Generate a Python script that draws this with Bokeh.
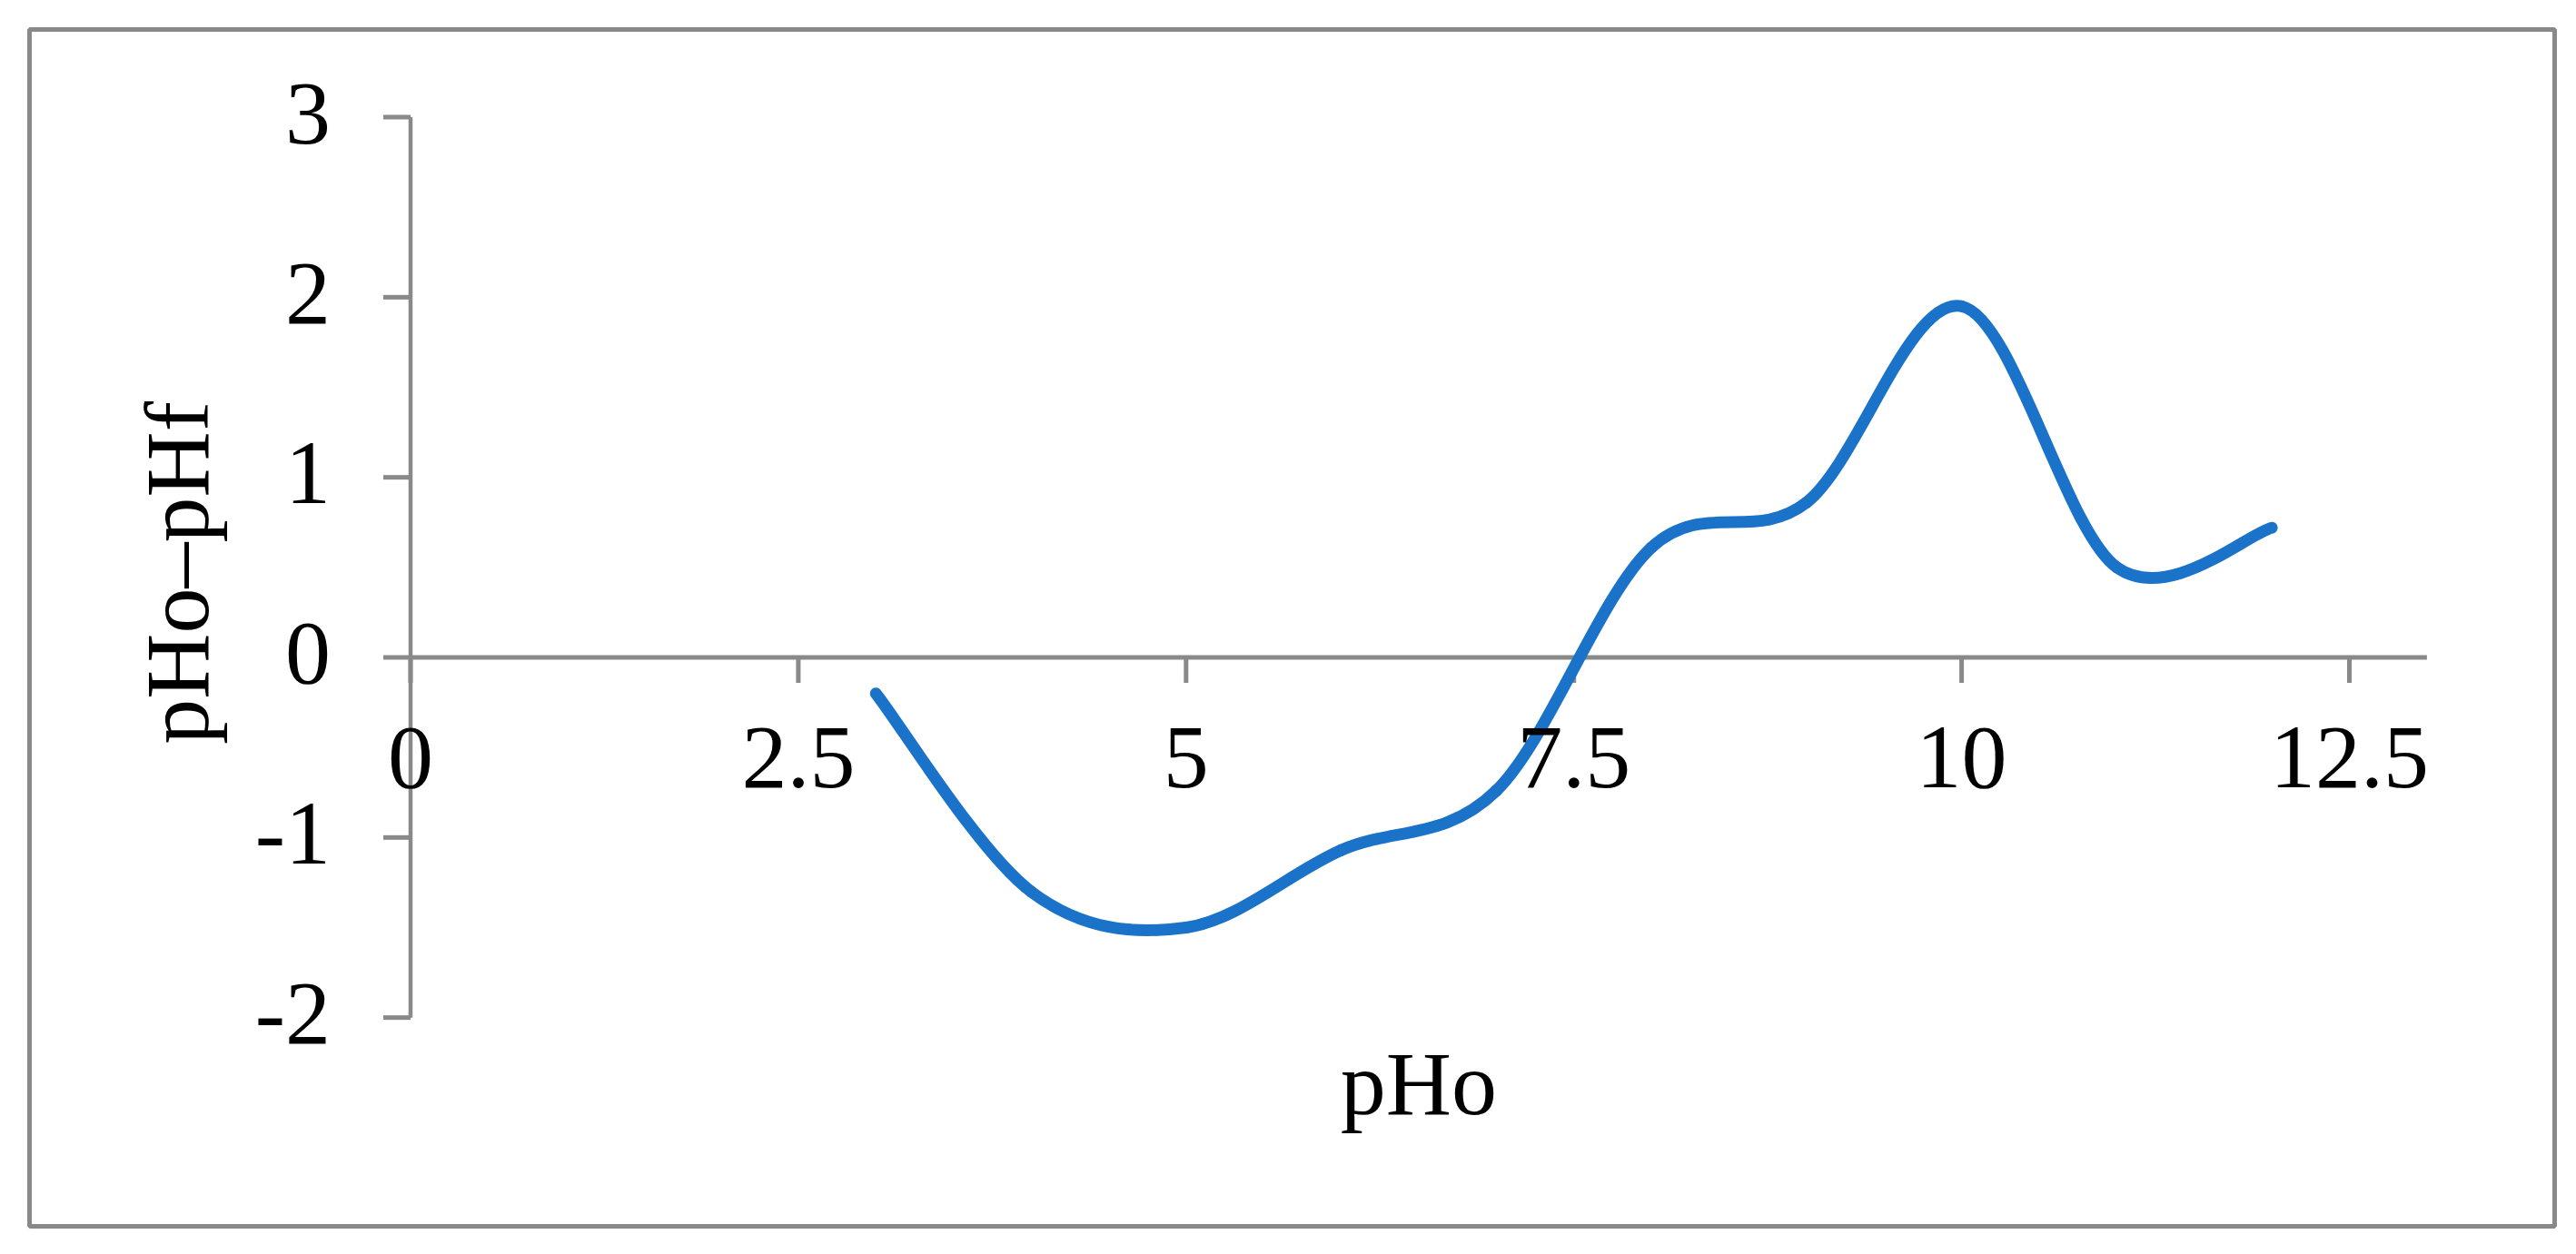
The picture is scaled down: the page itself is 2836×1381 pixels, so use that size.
import numpy as np
from bokeh.plotting import figure
from bokeh.models import Range1d
from bokeh.core.properties import value
from bokeh.embed import file_html
from bokeh.resources import INLINE

# ---- data ----
pHo = [3, 4, 5, 6, 7, 8, 9, 10, 11, 12]
pHo_minus_pHf = [-0.20, -1.30, -1.50, -1.07, -0.74, 0.61, 0.86, 1.95, 0.50, 0.72]

x_ticks = [0, 2.5, 5, 7.5, 10, 12.5]
x_tick_labels = ["0", "2.5", "5", "7.5", "10", "12.5"]
y_ticks = [-2, -1, 0, 1, 2, 3]
y_tick_labels = ["-2", "-1", "0", "1", "2", "3"]
x_axis_span = (0, 13)
y_axis_span = (-2, 3)

x_title = "pHo"
y_title = "pHo\u2013pHf"

# ---- smoothed line (Excel-style Bezier through the data points) ----
xs = np.array(pHo, dtype=float)
ys = np.array(pHo_minus_pHf, dtype=float)
xp = np.concatenate([[xs[0]], xs, [xs[-1]]])
yp = np.concatenate([[ys[0]], ys, [ys[-1]]])
n = len(xs)
x0 = xs[:-1]; y0 = ys[:-1]
x1 = xs[1:]; y1 = ys[1:]
cx0 = x0 + (xp[2:n + 1] - xp[0:n - 1]) / 6.0
cy0 = y0 + (yp[2:n + 1] - yp[0:n - 1]) / 6.0
cx1 = x1 - (xp[3:n + 2] - xp[1:n]) / 6.0
cy1 = y1 - (yp[3:n + 2] - yp[1:n]) / 6.0

GRAY = "#898989"
FONT = "Liberation Serif"

# layout: pixel scale of the plot area
PX_PER_X = 170.76
PX_PER_Y = 198.33
BASE_FIX = 35.0   # rendered baseline sits this many px lower than requested

p = figure(
    width=2828, height=1373,
    output_backend="svg", toolbar_location=None,
    x_range=Range1d(-2.4566, 13.8235), y_range=Range1d(-3.1589, 3.4866),
    min_border_left=32, min_border_top=32, min_border_right=16, min_border_bottom=23,
)
p.background_fill_color = "white"
p.border_fill_color = "white"
p.outline_line_color = GRAY
p.outline_line_width = 5
p.xgrid.visible = False
p.ygrid.visible = False
p.xaxis.visible = False
p.yaxis.visible = False

# axis rules and ticks (crossing at 0)
p.segment(x0=[x_axis_span[0]], y0=[0], x1=[x_axis_span[1]], y1=[0],
          line_color=GRAY, line_width=5)
p.segment(x0=[0], y0=[y_axis_span[0]], x1=[0], y1=[y_axis_span[1]],
          line_color=GRAY, line_width=4.5)
xt_len = 28.0 / PX_PER_Y
yt_len = 30.0 / PX_PER_X
p.segment(x0=x_ticks, y0=[0] * len(x_ticks), x1=x_ticks, y1=[-xt_len] * len(x_ticks),
          line_color=GRAY, line_width=5)
p.segment(x0=[0] * len(y_ticks), y0=y_ticks, x1=[-yt_len] * len(y_ticks), y1=y_ticks,
          line_color=GRAY, line_width=5)

p.bezier(x0=x0, y0=y0, x1=x1, y1=y1, cx0=cx0, cy0=cy0, cx1=cx1, cy1=cy1,
         line_color="#1a73c8", line_width=13, line_cap="round")

TEXT = dict(text_font=value(FONT), text_font_size="100px", text_color="black",
            text_baseline="alphabetic")

# x tick labels (baseline ~146 px below the x axis)
x_lab_y = -(146.0 - BASE_FIX) / PX_PER_Y
p.text(x=x_ticks, y=[x_lab_y] * len(x_ticks), text=x_tick_labels,
       text_align="center", **TEXT)

# y tick labels (right edge ~88 px left of the y axis, digits centred on tick)
y_lab_x = -88.0 / PX_PER_X
y_lab_dy = -(31.0 - BASE_FIX) / PX_PER_Y
p.text(x=[y_lab_x] * len(y_ticks), y=[t + y_lab_dy for t in y_ticks], text=y_tick_labels,
       text_align="right", **TEXT)

# x title
p.text(x=[6.5], y=[-(504.5 - BASE_FIX) / PX_PER_Y], text=[x_title],
       text_align="center", **TEXT)

# y title (rotated, reads bottom-to-top)
p.text(x=[-(221.5 + BASE_FIX) / PX_PER_X], y=[0.47], text=[y_title], angle=np.pi / 2,
       text_align="center", **TEXT)

open("out.html", "w").write(file_html(p, INLINE))
